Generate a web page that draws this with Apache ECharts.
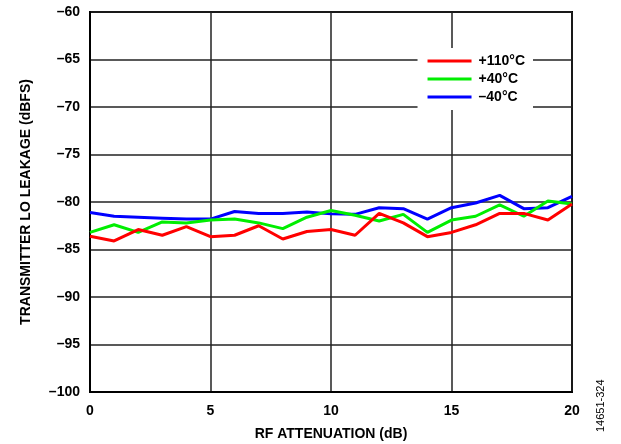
<!DOCTYPE html>
<html>
<head>
<meta charset="utf-8">
<script src="https://cdn.jsdelivr.net/npm/echarts@6/dist/echarts.min.js"></script>
<style>html,body{margin:0;padding:0;background:#fff;}#c{width:621px;height:444px;}</style>
</head>
<body>
<div id="c"></div>
<script>
var atten = [0,1,2,3,4,5,6,7,8,9,10,11,12,13,14,15,16,17,18,19,20];
var t110 = [-83.6,-84.1,-82.9,-83.5,-82.6,-83.65,-83.5,-82.5,-83.9,-83.1,-82.9,-83.5,-81.2,-82.2,-83.65,-83.2,-82.4,-81.2,-81.2,-81.9,-80.2];
var t40 = [-83.2,-82.4,-83.2,-82.1,-82.2,-81.9,-81.8,-82.2,-82.8,-81.6,-80.9,-81.4,-82.0,-81.3,-83.2,-81.9,-81.5,-80.3,-81.5,-79.9,-80.2];
var tm40 = [-81.1,-81.5,-81.6,-81.7,-81.8,-81.8,-81.0,-81.2,-81.2,-81.05,-81.25,-81.3,-80.6,-80.7,-81.8,-80.6,-80.1,-79.3,-80.7,-80.6,-79.4];
var seriesNames = ['+110°C','+40°C','\u201340°C'];
var colors = ['#ff0000','#00ee00','#0000ff'];

function pairs(v){ return atten.map(function(x,i){ return [x, v[i]]; }); }
var allData = [t110, t40, tm40];
var chart = echarts.init(document.getElementById('c'));
var font = 'Arial, "Liberation Sans", sans-serif';
chart.setOption({
  animation: false,
  backgroundColor: '#fff',
  grid: {left: 90, right: 49, top: 12, bottom: 52, outerBoundsMode: 'none', containLabel: false, show: true, borderColor: '#000', borderWidth: 2, backgroundColor: 'transparent'},
  xAxis: {
    type: 'value', min: 0, max: 20, interval: 5,
    name: 'RF ATTENUATION (dB)', nameLocation: 'middle', nameGap: 35,
    nameTextStyle: {fontFamily: font, fontWeight: 'bold', fontSize: 14, color: '#000'},
    axisLine: {show: true, lineStyle: {color: '#000', width: 2}},
    axisTick: {show: false},
    axisLabel: {fontFamily: font, fontWeight: 'bold', fontSize: 14, color: '#000', margin: 12},
    splitLine: {show: true, lineStyle: {color: '#222', width: 1.5}}
  },
  yAxis: {
    type: 'value', min: -100, max: -60, interval: 5,
    name: 'TRANSMITTER LO LEAKAGE (dBFS)', nameLocation: 'middle', nameGap: 57,
    nameTextStyle: {fontFamily: font, fontWeight: 'bold', fontSize: 14, color: '#000'},
    axisLine: {show: true, lineStyle: {color: '#000', width: 2}},
    axisTick: {show: false},
    axisLabel: {fontFamily: font, fontWeight: 'bold', fontSize: 14, color: '#000', margin: 10,
      formatter: function(v){ return v < 0 ? '\u2013' + Math.abs(v) : '' + v; }},
    splitLine: {show: true, lineStyle: {color: '#222', width: 1.5}}
  },
  legend: {
    orient: 'vertical', right: 88, top: 48,
    backgroundColor: '#fff', padding: [6, 8, 6, 10],
    itemWidth: 44, itemHeight: 3, itemGap: 4, icon: 'rect',
    textStyle: {fontFamily: font, fontWeight: 'bold', fontSize: 14, color: '#000', padding: [0,0,0,2]},
    data: seriesNames
  },
  series: seriesNames.map(function(n, i){
    return {
      name: n, type: 'line', data: pairs(allData[i]), showSymbol: false, symbol: 'none',
      lineStyle: {color: colors[i], width: 3}, itemStyle: {color: colors[i]}, z: 3 - i + 2
    };
  }),
  graphic: [{
    type: 'text', x: 601, y: 432, rotation: Math.PI/2,
    style: {text: '14651-324', fill: '#000', font: '11px Arial, "Liberation Sans", sans-serif', textAlign: 'left', textVerticalAlign: 'middle'}
  }]
});
</script>
</body>
</html>
